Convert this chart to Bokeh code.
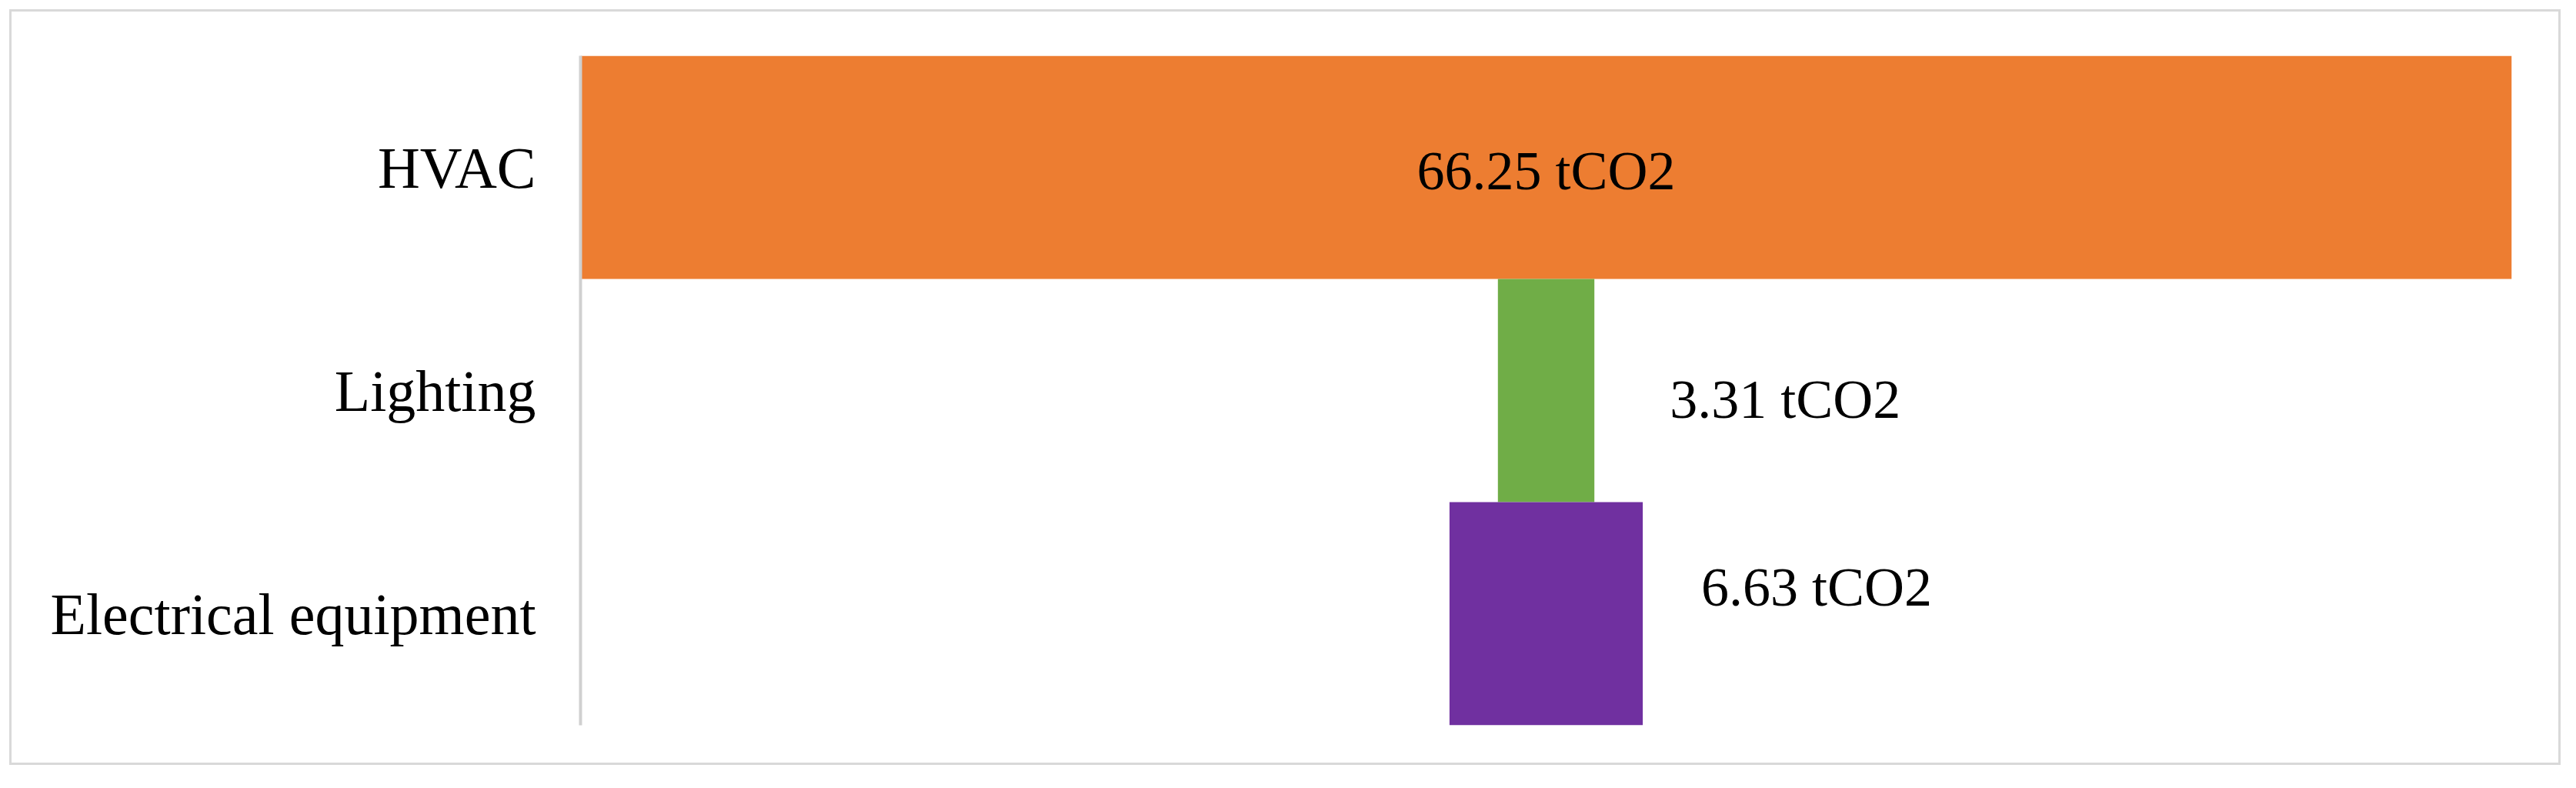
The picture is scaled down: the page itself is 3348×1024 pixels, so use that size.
from bokeh.plotting import figure
from bokeh.models import ColumnDataSource
from bokeh.core.properties import value
from bokeh.embed import file_html
from bokeh.resources import INLINE

categories = ["HVAC", "Lighting", "Electrical equipment"]
emissions = [66.25, 3.31, 6.63]
labels = ["66.25 tCO2", "3.31 tCO2", "6.63 tCO2"]
colors = ["#ED7D31", "#70AD47", "#7030A0"]

half = max(emissions) / 2.0
src = ColumnDataSource(dict(
    cat=categories,
    left=[-v / 2.0 for v in emissions],
    right=[v / 2.0 for v in emissions],
    color=colors,
))

p = figure(
    y_range=list(reversed(categories)),
    x_range=(-half, half),
    width=3316, height=982,
    output_backend="svg", toolbar_location=None,
    min_border_left=739, min_border_right=67,
    min_border_top=57, min_border_bottom=55,
)
p.styles = {"border": "3px solid #d9d9d9", "margin-left": "12px", "margin-top": "12px"}
p.y_range.range_padding = 0
p.outline_line_color = None
p.xaxis.visible = False
p.xgrid.visible = False
p.ygrid.visible = False

p.hbar(y="cat", left="left", right="right", height=1.0, fill_color="color",
       line_color=None, source=src)

# value labels
lab_x = [0.0, emissions[1] / 2.0, emissions[2] / 2.0]
lab_align = ["center", "left", "left"]
lab_xoff = [0, 98, 76]
lab_yoff = [4, 11, -35]
lsrc = ColumnDataSource(dict(x=lab_x, y=categories, t=labels, align=lab_align,
                             xo=lab_xoff, yo=lab_yoff))
p.text(x="x", y="y", text="t", text_align="align", text_baseline="middle",
       x_offset="xo", y_offset="yo", source=lsrc,
       text_font=value("Liberation Serif"), text_font_size=value("72px"),
       text_color="#000000")

ax = p.yaxis[0]
ax.axis_line_color = "#d0d0d0"
ax.axis_line_width = 4
ax.major_tick_line_color = None
ax.minor_tick_line_color = None
ax.major_label_standoff = 52
ax.major_label_text_font = "Liberation Serif"
ax.major_label_text_font_size = "76px"
ax.major_label_text_color = "#000000"

open("out.html", "w").write(file_html(p, INLINE))
